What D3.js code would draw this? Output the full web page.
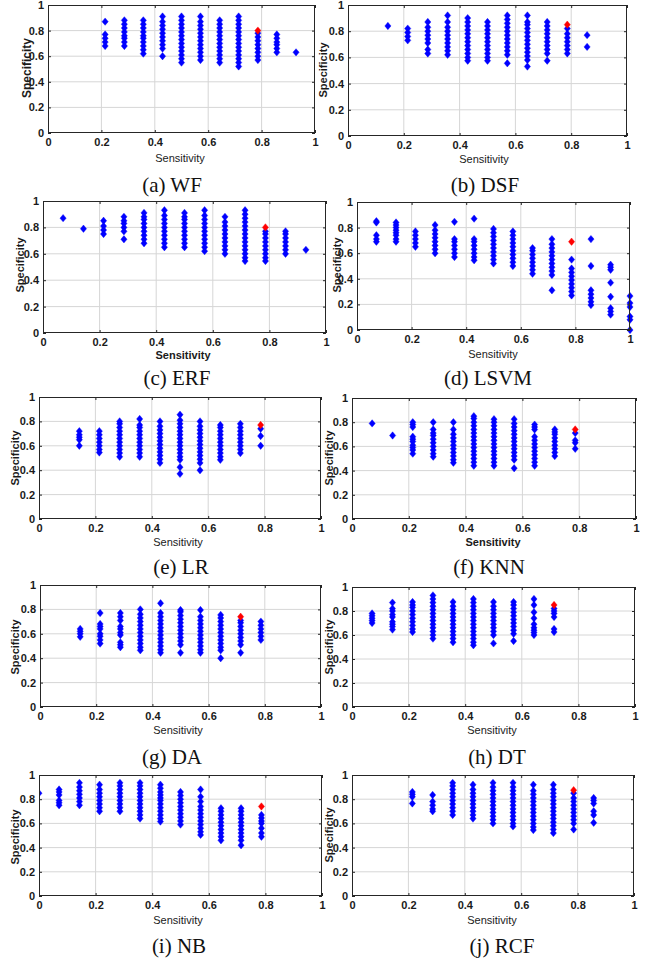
<!DOCTYPE html>
<html>
<head>
<meta charset="utf-8">
<script src="https://cdn.jsdelivr.net/npm/d3@7"></script>
<style>
  body { margin: 0; background: #fff; }
  svg { display: block; }
</style>
</head>
<body>
<svg id="fig" width="653" height="958"></svg>
<script>
// Axis ticks shared by every panel
const tickValues = [0, 0.2, 0.4, 0.6, 0.8, 1];
const tickLabels = ["0", "0.2", "0.4", "0.6", "0.8", "1"];
const captions = ["(a) WF", "(b) DSF", "(c) ERF", "(d) LSVM", "(e) LR",
                  "(f) KNN", "(g) DA", "(h) DT", "(i) NB", "(j) RCF"];

// Each entry: [sensitivity, specificity values reached at that sensitivity]
const WF = [
  [0.214, [0.68, 0.71, 0.74, 0.77, 0.87]],
  [0.286, [0.68, 0.71, 0.74, 0.76, 0.79, 0.82, 0.85, 0.88]],
  [0.357, [0.62, 0.65, 0.68, 0.71, 0.74, 0.76, 0.79, 0.82, 0.85, 0.88]],
  [0.429, [0.60, 0.66, 0.69, 0.72, 0.75, 0.78, 0.81, 0.84, 0.87, 0.91]],
  [0.500, [0.55, 0.58, 0.61, 0.64, 0.67, 0.70, 0.73, 0.76, 0.79, 0.82, 0.85, 0.88, 0.91]],
  [0.571, [0.57, 0.60, 0.63, 0.66, 0.69, 0.72, 0.75, 0.78, 0.81, 0.84, 0.87, 0.91]],
  [0.643, [0.55, 0.58, 0.61, 0.64, 0.67, 0.70, 0.73, 0.76, 0.79, 0.82, 0.85, 0.88]],
  [0.714, [0.52, 0.55, 0.58, 0.61, 0.64, 0.67, 0.70, 0.73, 0.76, 0.79, 0.82, 0.85, 0.88, 0.91]],
  [0.786, [0.57, 0.60, 0.63, 0.66, 0.69, 0.72, 0.75, 0.78]],
  [0.857, [0.63, 0.66, 0.69, 0.71, 0.74, 0.77]],
  [0.929, [0.63]]
];
const DSF = [
  [0.143, [0.84]],
  [0.214, [0.73, 0.76, 0.79, 0.82]],
  [0.286, [0.63, 0.66, 0.71, 0.74, 0.77, 0.80, 0.83, 0.87]],
  [0.357, [0.62, 0.65, 0.68, 0.71, 0.74, 0.77, 0.80, 0.83, 0.87, 0.92]],
  [0.429, [0.575, 0.60, 0.63, 0.66, 0.69, 0.72, 0.75, 0.78, 0.81, 0.84, 0.87, 0.90]],
  [0.500, [0.575, 0.60, 0.63, 0.66, 0.69, 0.72, 0.75, 0.78, 0.81, 0.84, 0.87]],
  [0.571, [0.555, 0.62, 0.65, 0.68, 0.71, 0.74, 0.77, 0.80, 0.83, 0.86, 0.89, 0.92]],
  [0.643, [0.53, 0.58, 0.61, 0.64, 0.67, 0.70, 0.73, 0.76, 0.79, 0.82, 0.85, 0.87, 0.92]],
  [0.714, [0.575, 0.63, 0.66, 0.69, 0.72, 0.75, 0.78, 0.81, 0.84, 0.87]],
  [0.786, [0.63, 0.66, 0.69, 0.72, 0.75, 0.78, 0.82]],
  [0.857, [0.68, 0.77]]
];
const ERF = [
  [0.071, [0.87]],
  [0.143, [0.79]],
  [0.214, [0.75, 0.78, 0.81, 0.85]],
  [0.286, [0.71, 0.77, 0.80, 0.83, 0.85, 0.88]],
  [0.357, [0.68, 0.71, 0.74, 0.77, 0.80, 0.83, 0.86, 0.88, 0.91]],
  [0.429, [0.65, 0.68, 0.71, 0.74, 0.77, 0.80, 0.83, 0.86, 0.89, 0.93]],
  [0.500, [0.65, 0.68, 0.71, 0.74, 0.77, 0.80, 0.83, 0.86, 0.88, 0.91]],
  [0.571, [0.62, 0.65, 0.68, 0.71, 0.74, 0.77, 0.80, 0.83, 0.86, 0.89, 0.93]],
  [0.643, [0.60, 0.63, 0.66, 0.69, 0.72, 0.75, 0.78, 0.81, 0.84, 0.88]],
  [0.714, [0.545, 0.57, 0.60, 0.63, 0.66, 0.69, 0.72, 0.75, 0.78, 0.81, 0.84, 0.87, 0.90, 0.93]],
  [0.786, [0.545, 0.57, 0.60, 0.63, 0.66, 0.69, 0.72, 0.75, 0.77]],
  [0.857, [0.60, 0.63, 0.66, 0.69, 0.72, 0.75, 0.77]],
  [0.929, [0.63]]
];
const LSVM = [
  [0.071, [0.69, 0.71, 0.74, 0.84, 0.85]],
  [0.143, [0.69, 0.71, 0.74, 0.76, 0.78, 0.80, 0.82, 0.84]],
  [0.214, [0.65, 0.68, 0.71, 0.74, 0.77]],
  [0.286, [0.60, 0.63, 0.66, 0.69, 0.72, 0.75, 0.78, 0.82]],
  [0.357, [0.57, 0.60, 0.63, 0.66, 0.69, 0.71, 0.845]],
  [0.429, [0.545, 0.57, 0.60, 0.63, 0.66, 0.69, 0.71, 0.87]],
  [0.500, [0.52, 0.55, 0.58, 0.61, 0.64, 0.67, 0.70, 0.73, 0.76, 0.79]],
  [0.571, [0.50, 0.53, 0.56, 0.59, 0.62, 0.65, 0.68, 0.71, 0.74, 0.77]],
  [0.643, [0.44, 0.47, 0.50, 0.53, 0.56, 0.59, 0.62, 0.64]],
  [0.714, [0.31, 0.43, 0.46, 0.49, 0.52, 0.55, 0.58, 0.61, 0.64, 0.67, 0.71]],
  [0.786, [0.27, 0.30, 0.33, 0.36, 0.39, 0.42, 0.45, 0.48, 0.55]],
  [0.857, [0.195, 0.22, 0.25, 0.28, 0.31, 0.50, 0.71]],
  [0.929, [0.12, 0.145, 0.17, 0.26, 0.37, 0.47, 0.49, 0.51]],
  [1.000, [0.0, 0.08, 0.105, 0.18, 0.21, 0.265]]
];
const LR = [
  [0.143, [0.60, 0.65, 0.67, 0.69, 0.72]],
  [0.214, [0.545, 0.57, 0.60, 0.63, 0.66, 0.69, 0.72]],
  [0.286, [0.51, 0.54, 0.57, 0.60, 0.63, 0.66, 0.69, 0.72, 0.75, 0.78, 0.80]],
  [0.357, [0.51, 0.54, 0.57, 0.60, 0.63, 0.66, 0.69, 0.72, 0.75, 0.77, 0.82]],
  [0.429, [0.46, 0.49, 0.52, 0.55, 0.58, 0.61, 0.64, 0.67, 0.70, 0.73, 0.76, 0.80]],
  [0.500, [0.37, 0.425, 0.485, 0.51, 0.54, 0.57, 0.60, 0.63, 0.66, 0.69, 0.72, 0.75, 0.78, 0.81, 0.855]],
  [0.571, [0.40, 0.46, 0.49, 0.52, 0.55, 0.58, 0.61, 0.64, 0.67, 0.70, 0.73, 0.76, 0.80]],
  [0.643, [0.485, 0.51, 0.54, 0.57, 0.60, 0.63, 0.66, 0.69, 0.72, 0.75, 0.77]],
  [0.714, [0.54, 0.57, 0.60, 0.63, 0.66, 0.69, 0.72, 0.75, 0.78]],
  [0.786, [0.60, 0.68, 0.74]]
];
const KNN = [
  [0.071, [0.79]],
  [0.143, [0.69]],
  [0.214, [0.54, 0.57, 0.59, 0.61, 0.64, 0.66, 0.68, 0.76, 0.78, 0.80]],
  [0.286, [0.515, 0.54, 0.57, 0.60, 0.63, 0.66, 0.69, 0.71, 0.74, 0.80]],
  [0.357, [0.465, 0.49, 0.52, 0.55, 0.58, 0.61, 0.64, 0.67, 0.70, 0.74, 0.80]],
  [0.429, [0.44, 0.47, 0.50, 0.53, 0.56, 0.59, 0.62, 0.65, 0.68, 0.71, 0.74, 0.77, 0.80, 0.83, 0.85]],
  [0.500, [0.44, 0.47, 0.50, 0.53, 0.56, 0.59, 0.62, 0.65, 0.68, 0.71, 0.74, 0.77, 0.80, 0.825]],
  [0.571, [0.42, 0.49, 0.52, 0.55, 0.58, 0.61, 0.64, 0.67, 0.70, 0.73, 0.76, 0.79, 0.825]],
  [0.643, [0.44, 0.47, 0.50, 0.53, 0.56, 0.59, 0.62, 0.65, 0.68, 0.74, 0.76, 0.78]],
  [0.714, [0.52, 0.55, 0.58, 0.61, 0.64, 0.67, 0.70, 0.72, 0.74]],
  [0.786, [0.58, 0.63, 0.65, 0.71]]
];
const DA = [
  [0.143, [0.575, 0.60, 0.62, 0.64]],
  [0.214, [0.52, 0.55, 0.58, 0.60, 0.64, 0.66, 0.68, 0.77]],
  [0.286, [0.49, 0.51, 0.53, 0.59, 0.61, 0.64, 0.66, 0.71, 0.74, 0.77]],
  [0.357, [0.465, 0.49, 0.52, 0.55, 0.58, 0.61, 0.64, 0.67, 0.70, 0.73, 0.76, 0.80]],
  [0.429, [0.445, 0.47, 0.50, 0.53, 0.56, 0.59, 0.62, 0.65, 0.68, 0.71, 0.74, 0.77, 0.85]],
  [0.500, [0.445, 0.51, 0.54, 0.57, 0.60, 0.63, 0.66, 0.69, 0.72, 0.75, 0.78, 0.795]],
  [0.571, [0.445, 0.47, 0.50, 0.53, 0.56, 0.59, 0.62, 0.65, 0.68, 0.71, 0.74, 0.795]],
  [0.643, [0.40, 0.465, 0.49, 0.52, 0.55, 0.58, 0.61, 0.64, 0.67, 0.70, 0.73, 0.755]],
  [0.714, [0.445, 0.51, 0.54, 0.57, 0.60, 0.63, 0.66, 0.69, 0.71]],
  [0.786, [0.55, 0.58, 0.61, 0.64, 0.67, 0.70]]
];
const DT = [
  [0.071, [0.70, 0.72, 0.74, 0.76, 0.78]],
  [0.143, [0.645, 0.67, 0.69, 0.71, 0.75, 0.77, 0.80, 0.82, 0.87]],
  [0.214, [0.625, 0.65, 0.68, 0.71, 0.74, 0.77, 0.80, 0.83, 0.85, 0.875]],
  [0.286, [0.57, 0.60, 0.63, 0.66, 0.69, 0.72, 0.75, 0.78, 0.81, 0.84, 0.87, 0.90, 0.93]],
  [0.357, [0.54, 0.57, 0.60, 0.63, 0.66, 0.69, 0.72, 0.75, 0.78, 0.81, 0.84, 0.875]],
  [0.429, [0.515, 0.54, 0.57, 0.60, 0.63, 0.66, 0.69, 0.72, 0.75, 0.78, 0.81, 0.84, 0.87, 0.90]],
  [0.500, [0.53, 0.60, 0.63, 0.66, 0.69, 0.72, 0.75, 0.78, 0.81, 0.84, 0.875]],
  [0.571, [0.55, 0.61, 0.64, 0.67, 0.70, 0.73, 0.76, 0.79, 0.82, 0.85, 0.875]],
  [0.643, [0.60, 0.62, 0.64, 0.66, 0.69, 0.74, 0.79, 0.85, 0.90]],
  [0.714, [0.625, 0.65, 0.75, 0.78, 0.80, 0.82]]
];
const NB = [
  [0.000, [0.85]],
  [0.071, [0.75, 0.77, 0.79, 0.835, 0.86, 0.88]],
  [0.143, [0.75, 0.78, 0.81, 0.84, 0.87, 0.90, 0.935]],
  [0.214, [0.70, 0.73, 0.76, 0.79, 0.82, 0.85, 0.88, 0.92]],
  [0.286, [0.70, 0.73, 0.76, 0.79, 0.82, 0.85, 0.88, 0.91, 0.935]],
  [0.357, [0.64, 0.67, 0.70, 0.73, 0.76, 0.79, 0.82, 0.85, 0.88, 0.91, 0.935]],
  [0.429, [0.615, 0.64, 0.67, 0.70, 0.73, 0.76, 0.79, 0.81, 0.835, 0.86, 0.89, 0.92]],
  [0.500, [0.59, 0.62, 0.65, 0.68, 0.71, 0.74, 0.77, 0.80, 0.83, 0.86]],
  [0.571, [0.505, 0.53, 0.56, 0.59, 0.62, 0.65, 0.68, 0.71, 0.74, 0.78, 0.82, 0.88]],
  [0.643, [0.46, 0.49, 0.52, 0.55, 0.58, 0.61, 0.64, 0.67, 0.70, 0.725]],
  [0.714, [0.42, 0.46, 0.49, 0.52, 0.55, 0.58, 0.61, 0.64, 0.67, 0.70, 0.725]],
  [0.786, [0.49, 0.52, 0.56, 0.60, 0.62, 0.645, 0.67]]
];
const RCF = [
  [0.214, [0.765, 0.82, 0.84, 0.86]],
  [0.286, [0.70, 0.72, 0.75, 0.78, 0.835]],
  [0.357, [0.67, 0.70, 0.73, 0.76, 0.79, 0.82, 0.85, 0.88, 0.91, 0.935]],
  [0.429, [0.64, 0.67, 0.70, 0.73, 0.76, 0.79, 0.82, 0.85, 0.88, 0.92]],
  [0.500, [0.60, 0.63, 0.66, 0.69, 0.72, 0.75, 0.78, 0.81, 0.84, 0.87, 0.90, 0.935]],
  [0.571, [0.575, 0.60, 0.63, 0.66, 0.69, 0.72, 0.75, 0.78, 0.81, 0.84, 0.87, 0.90, 0.935]],
  [0.643, [0.545, 0.57, 0.60, 0.63, 0.66, 0.69, 0.72, 0.75, 0.78, 0.81, 0.84, 0.87, 0.92]],
  [0.714, [0.52, 0.55, 0.58, 0.61, 0.64, 0.67, 0.70, 0.73, 0.76, 0.79, 0.82, 0.85, 0.88, 0.92]],
  [0.786, [0.55, 0.60, 0.63, 0.66, 0.69, 0.72, 0.75, 0.78, 0.81, 0.85]],
  [0.857, [0.605, 0.67, 0.70, 0.765, 0.79, 0.81]]
];

// Selected operating point of each classifier: [sensitivity, specificity]
const bestPoints = [
  [0.786, 0.80], [0.786, 0.85], [0.786, 0.80], [0.786, 0.69], [0.786, 0.77],
  [0.786, 0.74], [0.714, 0.74], [0.714, 0.85], [0.786, 0.74], [0.786, 0.875]
];
const series = [WF, DSF, ERF, LSVM, LR, KNN, DA, DT, NB, RCF];

// Panel layout: plot box, label anchors, caption anchor
const layout = [
  { box: [48, 5, 315, 133],   xl: [180, 158], yl: [27, 68],  cap: [172, 192], xBold: false, clip: false },
  { box: [348, 5, 627, 136],  xl: [484, 159], yl: [323, 70], cap: [485, 192], xBold: false, clip: false },
  { box: [43, 201, 326, 333], xl: [183, 355], yl: [20, 265], cap: [177, 385], xBold: true,  clip: false },
  { box: [357, 202, 630, 330],xl: [493, 354], yl: [337, 265],cap: [488, 385], xBold: false, clip: false },
  { box: [39, 397, 321, 519], xl: [178, 542], yl: [15, 458], cap: [181, 574], xBold: false, clip: false },
  { box: [352, 398, 636, 519],xl: [493, 542], yl: [329, 458],cap: [489, 574], xBold: true,  clip: false },
  { box: [40, 585, 321, 707], xl: [178, 730], yl: [15, 647], cap: [172, 764], xBold: false, clip: false },
  { box: [352, 587, 635, 707],xl: [492, 730], yl: [329, 647],cap: [497, 764], xBold: false, clip: false },
  { box: [39, 775, 322, 896], xl: [178, 920], yl: [15, 837], cap: [179, 953], xBold: false, clip: true },
  { box: [352, 775, 634, 896],xl: [492, 920], yl: [329, 835],cap: [502, 953], xBold: false, clip: false }
];

const svg = d3.select("#fig");
const sans = "Arial, 'Liberation Sans', Helvetica, sans-serif";
const serif = "'Times New Roman', 'Liberation Serif', Times, serif";
const diamond = "M0,-3.7L3.1,0L0,3.7L-3.1,0Z";

layout.forEach((L, i) => {
  const [x0, y0, x1, y1] = L.box;
  const x = d3.scaleLinear().domain([0, 1]).range([x0, x1]);
  const y = d3.scaleLinear().domain([0, 1]).range([y1, y0]);
  const g = svg.append("g");

  // grid
  g.append("g").selectAll("line.gx").data(tickValues.slice(1, -1)).join("line")
    .attr("x1", d => x(d)).attr("x2", d => x(d)).attr("y1", y0).attr("y2", y1)
    .attr("stroke", "#d6d6d6").attr("stroke-width", 1);
  g.append("g").selectAll("line.gy").data(tickValues.slice(1, -1)).join("line")
    .attr("y1", d => y(d)).attr("y2", d => y(d)).attr("x1", x0).attr("x2", x1)
    .attr("stroke", "#d6d6d6").attr("stroke-width", 1);

  // markers
  const pts = [];
  series[i].forEach(([s, specs]) => specs.forEach(v => pts.push([s, v])));
  let mg = g.append("g");
  if (L.clip) {
    const id = "clip" + i;
    svg.append("clipPath").attr("id", id).append("rect")
      .attr("x", x0).attr("y", y0).attr("width", x1 - x0).attr("height", y1 - y0);
    mg.attr("clip-path", `url(#${id})`);
  }
  mg.selectAll("path").data(pts).join("path")
    .attr("d", diamond)
    .attr("transform", d => `translate(${x(d[0])},${y(d[1])})`)
    .attr("fill", "#0000ff").attr("stroke", "#0000ff").attr("stroke-width", 0.4);
  mg.append("path").datum(bestPoints[i])
    .attr("d", diamond)
    .attr("transform", d => `translate(${x(d[0])},${y(d[1])})`)
    .attr("fill", "#ff0000").attr("stroke", "#ff0000").attr("stroke-width", 0.4);

  // axes with inward ticks on all four sides
  const fmt = (d, k) => tickLabels[k];
  const styleAxis = sel => {
    sel.select(".domain").remove();
    sel.selectAll(".tick line").attr("stroke", "#262626");
    sel.selectAll("text").attr("fill", "#1a1a1a")
      .style("font-family", sans).style("font-size", "11px").style("font-weight", "bold");
  };
  g.append("g").attr("transform", `translate(0,${y1})`)
    .call(d3.axisBottom(x).tickValues(tickValues).tickFormat(fmt).tickSize(-3).tickPadding(5))
    .call(styleAxis);
  g.append("g").attr("transform", `translate(${x0},0)`)
    .call(d3.axisLeft(y).tickValues(tickValues).tickFormat(fmt).tickSize(-3).tickPadding(4))
    .call(styleAxis);
  g.append("g").attr("transform", `translate(0,${y0})`)
    .call(d3.axisTop(x).tickValues(tickValues).tickFormat("").tickSize(-3))
    .call(styleAxis);
  g.append("g").attr("transform", `translate(${x1},0)`)
    .call(d3.axisRight(y).tickValues(tickValues).tickFormat("").tickSize(-3))
    .call(styleAxis);

  // box
  g.append("rect").attr("x", x0 + 0.5).attr("y", y0 + 0.5)
    .attr("width", x1 - x0 - 1).attr("height", y1 - y0 - 1)
    .attr("fill", "none").attr("stroke", "#262626").attr("stroke-width", 1);

  // axis titles
  g.append("text").attr("x", L.xl[0]).attr("y", L.xl[1] + 4)
    .attr("text-anchor", "middle").attr("fill", "#1a1a1a")
    .style("font-family", sans).style("font-size", "11px")
    .style("font-weight", L.xBold ? "bold" : "normal")
    .text("Sensitivity");
  g.append("text")
    .attr("transform", `translate(${L.yl[0] + 4},${L.yl[1]}) rotate(-90)`)
    .attr("text-anchor", "middle").attr("fill", "#1a1a1a")
    .style("font-family", sans).style("font-size", i === 0 ? "12px" : "11px").style("font-weight", "bold")
    .text("Specificity");

  // caption
  g.append("text").attr("x", L.cap[0]).attr("y", L.cap[1])
    .attr("text-anchor", "middle").attr("fill", "#111")
    .style("font-family", serif).style("font-size", "21px")
    .text(captions[i]);
});
</script>
</body>
</html>
